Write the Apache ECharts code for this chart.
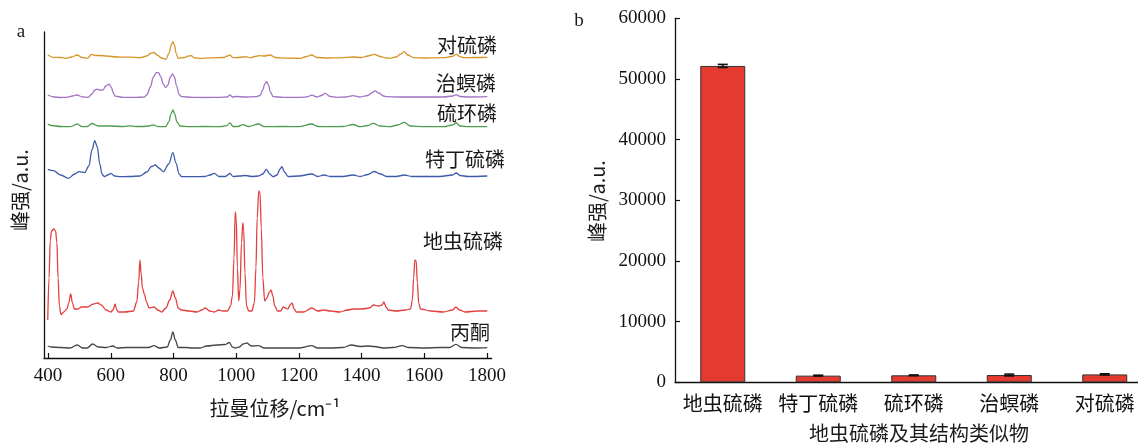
<!DOCTYPE html>
<html>
<head>
<meta charset="utf-8">
<script src="https://cdn.jsdelivr.net/npm/echarts@6/dist/echarts.min.js"></script>
<style>
html,body{margin:0;padding:0;background:#fff;}
#chart{width:1138px;height:443px;}
</style>
</head>
<body>
<div id="chart"></div>
<script>
// ---------- Panel a: Raman spectra (wavenumber cm-1, offset intensity a.u.) ----------
const ramanTicks = [400, 600, 800, 1000, 1200, 1400, 1600, 1800];

const specParathion = [ // 对硫磷
  [399,303],[417,300.7],[440,300.5],[457,299.7],[475,301],[493,303],[508,300.5],[525,299.7],[539,303.7],[550,302.5],[565,302.5],[587,302],[620,301],[660,300.8],[693,300.3],[715,302],[727,304.5],[737,305.5],[748,303],[762,300],[776,298.7],[786,305],[793,313],[798,316.3],[803,313],[809,304],[815,299.7],[835,300.5],[848,302],[856,302.3],[868,300],[885,299.7],[920,300.2],[960,300.5],[972,302],[980,303],[990,300.3],[1005,300.5],[1021,301],[1031,301.3],[1045,300.2],[1060,301.5],[1073,302.3],[1090,302],[1108,303],[1125,300.5],[1160,299.8],[1204,299.7],[1225,301.5],[1240,303],[1258,300.5],[1290,300],[1330,300.2],[1373,301],[1400,300.5],[1420,302],[1440,303.7],[1460,301.5],[1478,300],[1491,299.7],[1510,301],[1525,304],[1536,306.3],[1547,303],[1565,300.3],[1600,300],[1661,300.3],[1688,301.5],[1702,303.7],[1714,301.3],[1725,300.3],[1760,300.5],[1801,300.7]
];

const specCadusafos = [ // 治螟磷
  [399,263],[420,261],[440,260.5],[460,260.7],[478,262],[492,263],[510,261],[528,260.7],[540,264],[549,268],[556,268.8],[566,267.8],[575,268],[584,272],[595,273.8],[602,270.5],[608,265],[614,261.8],[640,260.7],[680,260.7],[706,260.8],[716,263.5],[726,271],[736,281],[745,285.3],[752,285.6],[760,281],[767,274],[775,270.5],[782,273],[790,281],[797,284],[803,281],[810,272],[818,263.5],[826,261.3],[860,260.7],[900,260.5],[950,260.7],[972,261],[980,263.2],[988,261],[1000,261.5],[1030,261],[1062,261.3],[1076,262.5],[1085,268],[1091,274],[1097,276.3],[1103,273],[1109,266],[1118,261.3],[1150,260.7],[1206,260.7],[1226,261.2],[1241,262.8],[1258,261],[1272,262.5],[1284,264.6],[1300,261.5],[1321,260.7],[1348,261],[1373,262.3],[1395,261],[1420,262.5],[1434,265.5],[1443,267.1],[1455,265],[1470,262],[1480,261.3],[1520,261],[1600,261],[1660,261],[1690,262],[1702,263.2],[1714,261.5],[1740,261],[1801,261.3]
];

const specPhosfolan = [ // 硫环磷
  [399,234],[410,232.5],[440,231.5],[470,231.3],[493,233.8],[510,231.3],[525,231.5],[540,234.5],[560,232],[600,232],[640,231.5],[661,232.2],[680,231.5],[700,231.5],[722,232],[735,233.2],[752,231.3],[775,231.3],[785,236],[792,244],[798,248],[804,244],[811,236],[821,232],[850,231.3],[900,231.5],[950,231.3],[970,232.3],[980,235.2],[990,231.5],[1005,231.5],[1021,233.3],[1040,231.5],[1071,234],[1090,231.3],[1150,231.5],[1200,231.3],[1241,234],[1260,231.5],[1300,231.3],[1340,231.5],[1373,233.5],[1395,231.3],[1420,232.5],[1437,234.6],[1460,232],[1491,231.3],[1515,233],[1536,235.6],[1556,232],[1600,231.3],[1660,231.3],[1690,233],[1702,235],[1714,232],[1740,231.3],[1801,231.3]
];

const specTerbufos = [ // 特丁硫磷
  [399,188.7],[417,187.3],[440,183],[465,179.7],[485,184],[499,186.3],[517,185.5],[530,192],[540,208],[549,217.3],[557,211],[565,194],[572,184],[580,181.3],[590,183],[600,184.7],[612,182],[630,181.3],[660,181.5],[693,182],[715,186],[730,191.5],[742,193],[753,190],[768,186.3],[785,194],[798,205.3],[808,195],[818,184],[826,181.3],[860,181.3],[900,181.5],[917,183],[930,184.7],[945,181.5],[965,181.5],[980,184.5],[990,181.5],[1010,182],[1030,182.5],[1050,181.5],[1071,182],[1085,184],[1096,188.7],[1107,184],[1118,181.3],[1130,183],[1140,189],[1146,191.3],[1154,186],[1166,181.5],[1200,182],[1241,184],[1260,181.5],[1280,183],[1300,181.5],[1340,181.5],[1373,183],[1395,181.5],[1420,183.5],[1440,186.5],[1460,184],[1480,181.5],[1510,181.5],[1537,183],[1560,181.5],[1650,181.5],[1690,183],[1702,185],[1714,182.5],[1740,181.5],[1801,182]
];

const specFonofos = [ // 地虫硫磷
  [399,38],[403,80],[407,118],[411,127],[418,129],[424,127],[428,116],[432,80],[436,52],[441,43.5],[450,46],[460,49],[466,55],[472,64],[478,55],[484,49],[495,49],[507,51],[525,51],[545,54],[558,55],[570,53],[585,48],[600,46],[607,48],[614,54],[619,48],[624,46],[645,46],[672,47],[683,56],[689,76],[693,98],[697,84],[701,70],[707,64],[714,56],[722,50],[738,51],[750,48],[762,46],[776,50],[788,58],[798,67],[806,60],[815,50],[825,48],[850,47],[875,46],[890,48],[902,50],[915,47],[930,46],[945,48],[958,47],[972,47],[982,52],[988,62],[993,100],[997,146],[1000,140],[1004,90],[1008,57],[1012,68],[1017,115],[1021,135],[1024,128],[1028,85],[1033,52],[1040,47],[1050,47],[1058,55],[1063,90],[1067,140],[1072,167],[1076,165],[1080,130],[1085,80],[1091,57],[1098,60],[1106,66],[1111,68],[1117,62],[1123,52],[1132,47],[1142,47],[1150,51],[1157,50],[1165,49],[1172,53],[1178,55],[1185,49],[1192,46],[1215,46],[1241,50],[1260,47],[1280,48],[1300,47],[1330,46],[1355,48],[1373,49],[1400,49],[1425,50],[1438,53],[1455,52],[1465,53],[1471,56],[1478,51],[1485,48],[1510,47],[1540,48],[1556,49],[1562,58],[1566,80],[1570,98],[1574,97],[1578,75],[1582,55],[1588,49],[1620,47],[1660,46],[1690,48],[1701,51],[1712,48],[1730,46],[1770,47],[1801,47]
];

const specAcetone = [ // 丙酮
  [399,12],[410,11],[440,10.5],[470,10],[493,13],[510,10],[525,10],[542,14],[560,11],[585,10.5],[607,12],[620,10],[650,10.5],[693,10.5],[720,10.5],[738,12.3],[755,10],[780,11],[790,18],[798,26],[806,18],[815,10.5],[840,10.5],[860,10],[885,10],[906,12],[938,13],[965,13.5],[978,15.5],[988,11],[997,10],[1010,11],[1022,14],[1034,15],[1048,12],[1071,12.3],[1090,10],[1120,10],[1200,10],[1241,12.3],[1260,10],[1300,10],[1340,10.5],[1368,13],[1395,11.5],[1420,12],[1440,11.5],[1470,10],[1500,10.5],[1530,12.3],[1550,10.5],[1600,10],[1650,10.5],[1680,10.5],[1701,13.7],[1720,10.5],[1760,10],[1801,10.3]
];

// ---------- Panel b: peak intensity bars ----------
const categories = ['地虫硫磷', '特丁硫磷', '硫环磷', '治螟磷', '对硫磷'];
const peakValues = [52150, 1100, 1150, 1200, 1300];
const peakErrors = [250, 70, 60, 150, 100];

const serif = "'Liberation Serif', 'Noto Sans CJK SC', serif";
const cjk = "'Noto Sans CJK SC', 'Liberation Serif', sans-serif";

const chart = echarts.init(document.getElementById('chart'), null, {renderer: 'canvas'});

function lineSeries(name, data, color) {
  return {
    name, type: 'line', xAxisIndex: 0, yAxisIndex: 0, data,
    showSymbol: false, smooth: 0.35, smoothMonotone: 'x',
    lineStyle: {color, width: 1.3}, itemStyle: {color},
    silent: true, z: 3
  };
}

function txt(text, x, y, size, extra) {
  return Object.assign({
    type: 'text', x, y, silent: true,
    style: {text, align: 'center', verticalAlign: 'middle', textAlign: 'center', textVerticalAlign: 'middle',
      font: size + 'px ' + cjk, fill: '#1a1a1a'}
  }, extra || {});
}

const option = {
  animation: false,
  backgroundColor: '#fff',
  grid: [
    {left: 44, top: 32, width: 447.7, height: 326, containLabel: false, outerBoundsMode: 'none'},
    {left: 675, top: 18.3, width: 477.5, height: 364, containLabel: false, outerBoundsMode: 'none'}
  ],
  xAxis: [
    {
      type: 'value', gridIndex: 0, min: 387, max: 1815,
      axisLine: {show: true, lineStyle: {color: '#111', width: 1.3}},
      axisTick: {show: true, inside: true, length: 5, customValues: ramanTicks, lineStyle: {color: '#111', width: 1.2}},
      axisLabel: {customValues: ramanTicks, margin: 9, fontSize: 19, fontFamily: serif, color: '#111', formatter: v => String(v)},
      splitLine: {show: false}
    },
    {
      type: 'category', gridIndex: 1, data: categories,
      axisLine: {show: true, lineStyle: {color: '#111', width: 1.3}},
      axisTick: {show: false},
      axisLabel: {interval: 0, margin: 11, fontSize: 20, fontFamily: cjk, color: '#111'},
      splitLine: {show: false}
    }
  ],
  yAxis: [
    {
      type: 'value', gridIndex: 0, min: 0, max: 326,
      axisLine: {show: true, lineStyle: {color: '#111', width: 1.3}},
      axisTick: {show: false}, axisLabel: {show: false}, splitLine: {show: false}
    },
    {
      type: 'value', gridIndex: 1, min: 0, max: 60000, interval: 10000,
      axisLine: {show: true, lineStyle: {color: '#111', width: 1.3}},
      axisTick: {show: true, inside: true, length: 5, lineStyle: {color: '#111', width: 1.2}},
      axisLabel: {margin: 9, fontSize: 19, fontFamily: serif, color: '#111', formatter: v => String(v)},
      splitLine: {show: false}
    }
  ],
  series: [
    lineSeries('对硫磷', specParathion, '#d5952a'),
    lineSeries('治螟磷', specCadusafos, '#a274c4'),
    lineSeries('硫环磷', specPhosfolan, '#4d9c50'),
    lineSeries('特丁硫磷', specTerbufos, '#3d5ba8'),
    lineSeries('地虫硫磷', specFonofos, '#e2403e'),
    lineSeries('丙酮', specAcetone, '#4a4444'),
    {
      type: 'bar', xAxisIndex: 1, yAxisIndex: 1, data: peakValues, barWidth: 45,
      itemStyle: {color: '#e53a2f', borderColor: '#333', borderWidth: 1}, silent: true
    },
    {
      type: 'custom', xAxisIndex: 1, yAxisIndex: 1, silent: true, z: 5,
      data: peakValues.map((v, i) => [i, v, peakErrors[i]]),
      renderItem: function (params, api) {
        const i = api.value(0), v = api.value(1), e = api.value(2);
        const top = api.coord([i, v + e]);
        const bot = api.coord([i, v - e]);
        const hw = 5;
        const st = {stroke: '#111', lineWidth: 1.6};
        return {type: 'group', children: [
          {type: 'line', shape: {x1: top[0], y1: top[1], x2: bot[0], y2: bot[1]}, style: st},
          {type: 'line', shape: {x1: top[0] - hw, y1: top[1], x2: top[0] + hw, y2: top[1]}, style: st},
          {type: 'line', shape: {x1: bot[0] - hw, y1: bot[1], x2: bot[0] + hw, y2: bot[1]}, style: st}
        ]};
      }
    }
  ],
  graphic: [
    txt('a', 21, 32, 19, {style: {text: 'a', align: 'center', verticalAlign: 'middle', font: '19px ' + serif, fill: '#1a1a1a'}}),
    txt('b', 579, 21, 19, {style: {text: 'b', align: 'center', verticalAlign: 'middle', font: '19px ' + serif, fill: '#1a1a1a'}}),
    txt('对硫磷', 467, 45, 20),
    txt('治螟磷', 466, 83, 20),
    txt('硫环磷', 467, 113, 20),
    txt('特丁硫磷', 465, 159, 20),
    txt('地虫硫磷', 463, 241, 20),
    txt('丙酮', 470, 332, 20),
    txt('拉曼位移/cm⁻¹', 275, 408, 20),
    txt('峰强/a.u.', 20, 190, 20, {rotation: Math.PI / 2}),
    txt('峰强/a.u.', 597, 201, 20, {rotation: Math.PI / 2}),
    txt('地虫硫磷及其结构类似物', 919, 433, 20)
  ]
};

chart.setOption(option);
</script>
</body>
</html>
